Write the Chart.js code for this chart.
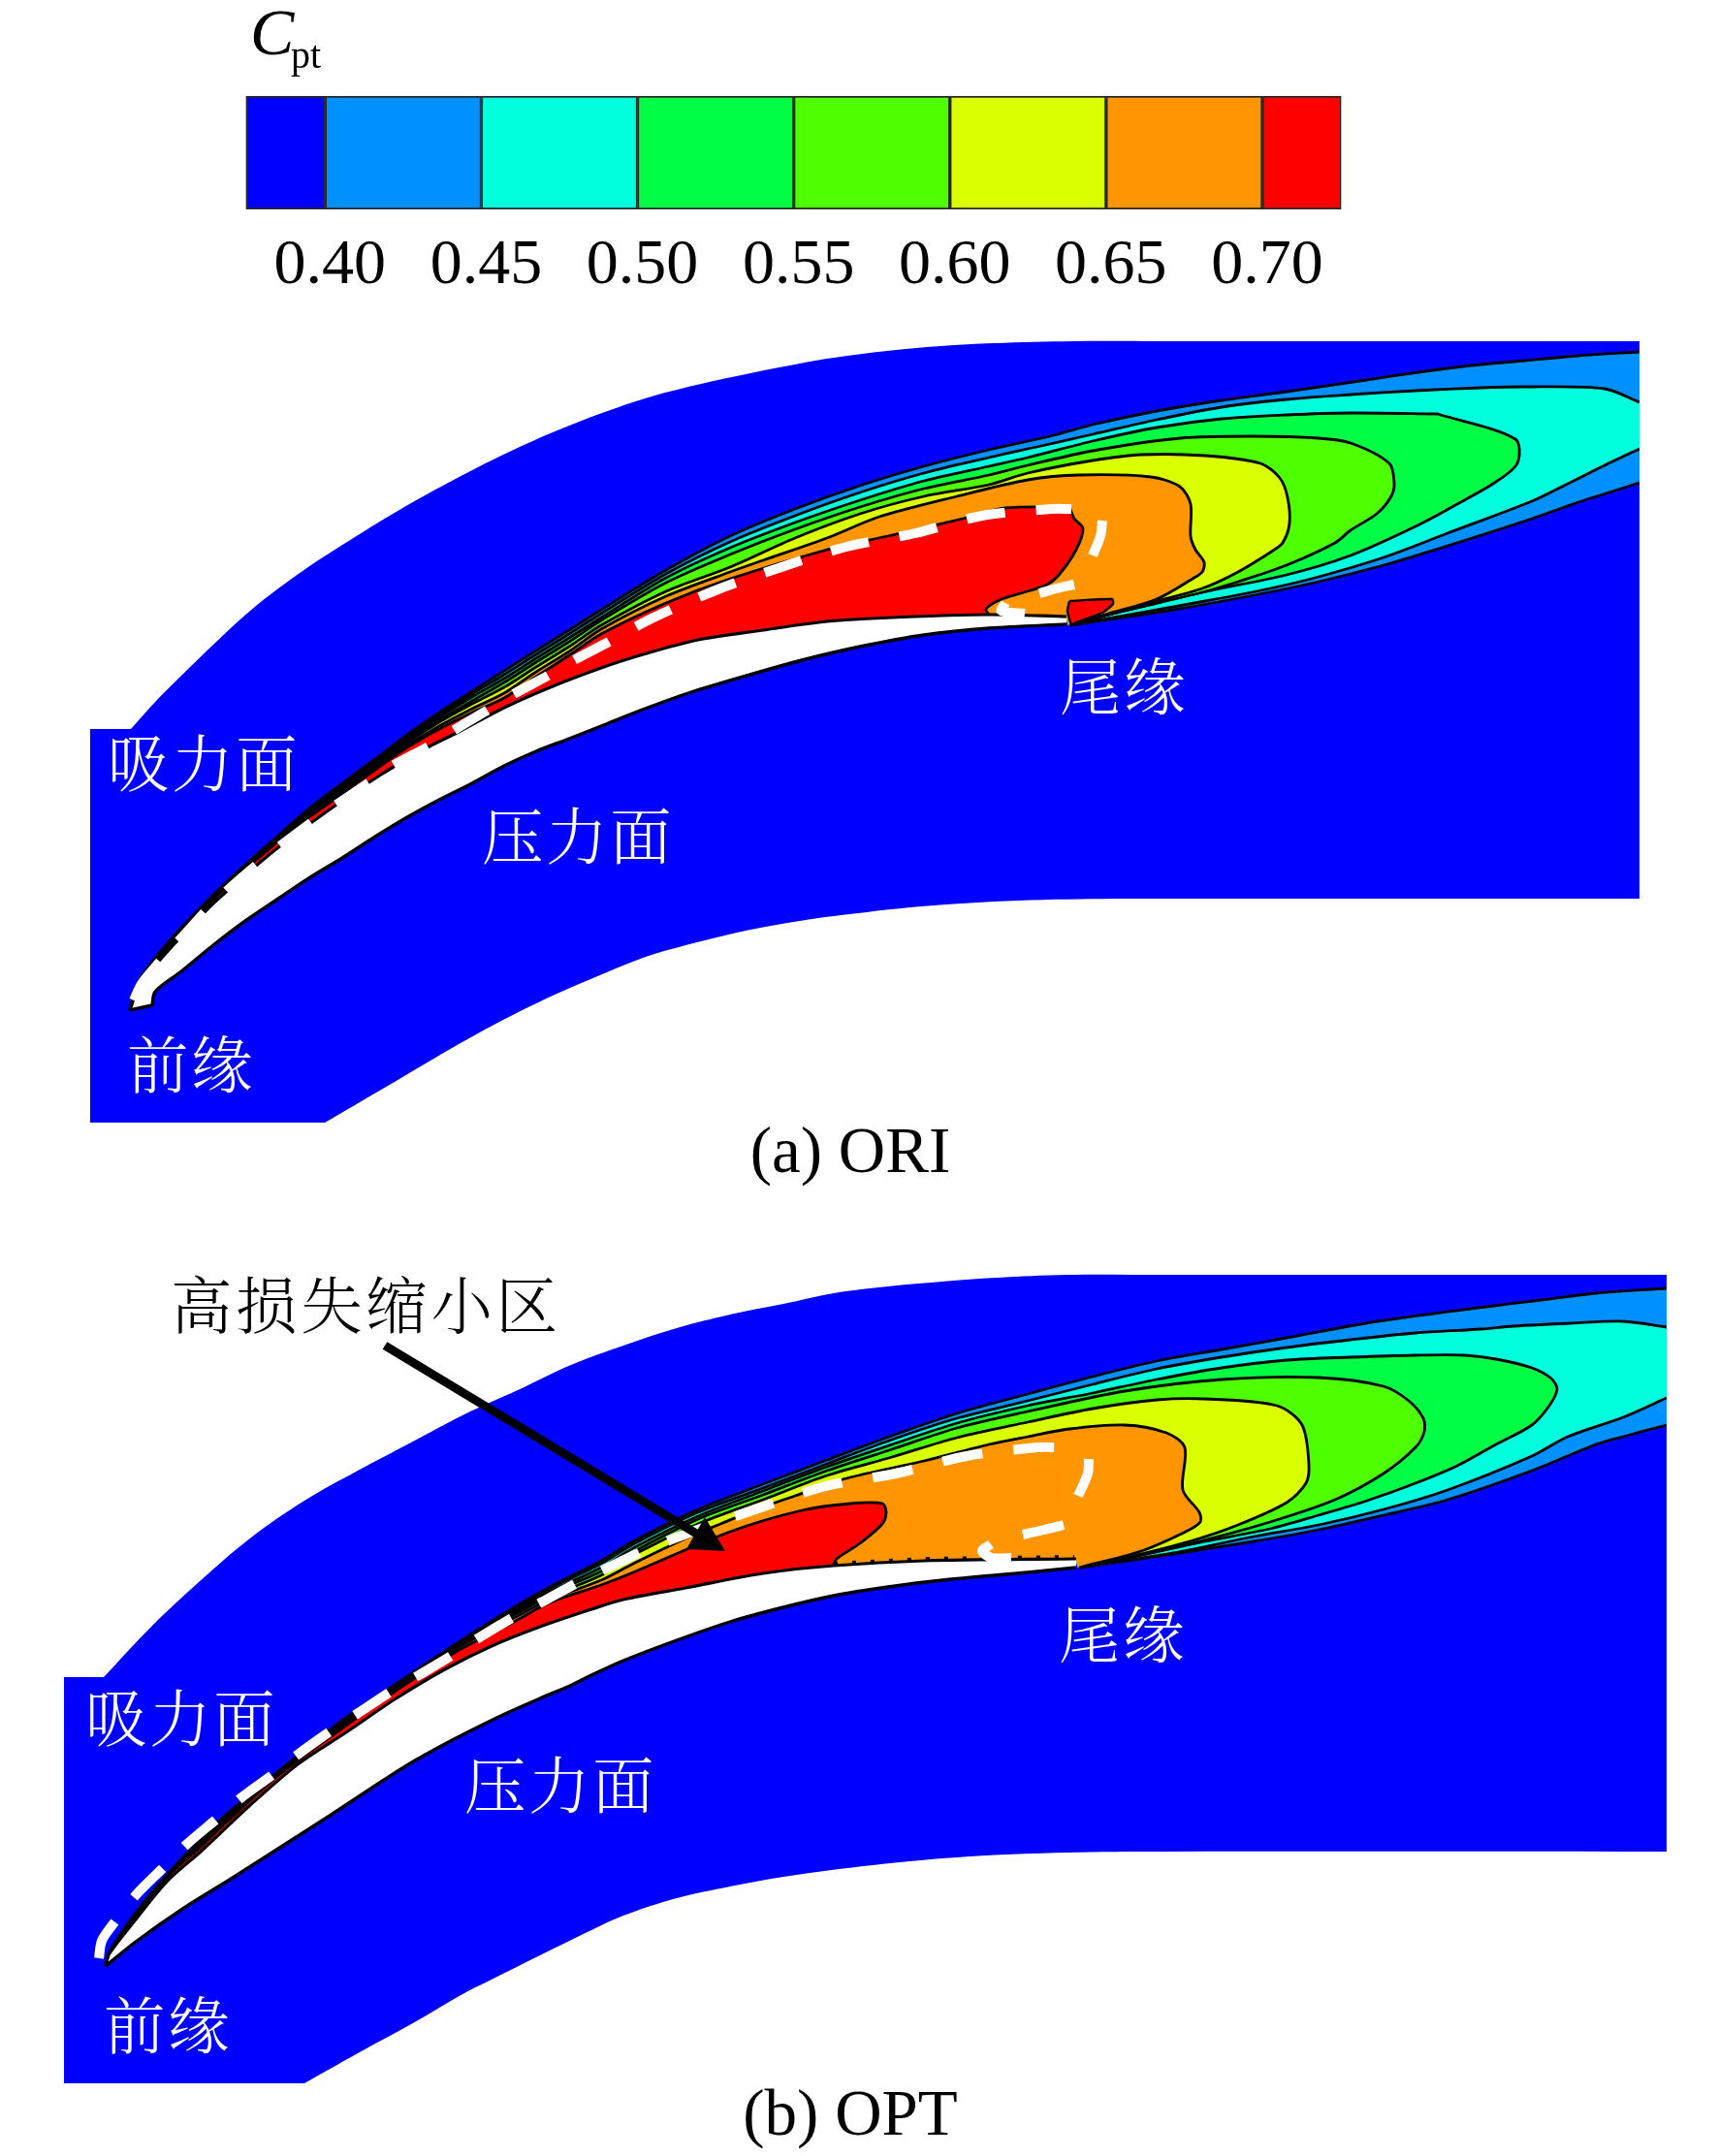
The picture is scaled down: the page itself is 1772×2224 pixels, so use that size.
<!DOCTYPE html>
<html><head><meta charset="utf-8"><style>
html,body{margin:0;padding:0;background:#fff}
#wrap{position:relative;width:1772px;height:2224px;overflow:hidden}
canvas{position:absolute;left:0;top:0}
</style>
<script src="https://cdn.jsdelivr.net/npm/chart.js@4"></script></head><body>
<div id="wrap"><canvas id="main" width="1772" height="2224"></canvas><canvas id="bar" width="1772" height="330"></canvas></div>
<script>
// ---- colour bar data ----
const levelEdges=[0.3746,0.40,0.45,0.50,0.55,0.60,0.65,0.70,0.7253];
const levelTicks=[0.40,0.45,0.50,0.55,0.60,0.65,0.70];
const levelColors=['#0000ff','#0090ff','#00ffdd','#00ff44','#4dff00','#d9ff00','#ff9500','#ff0000'];
const wallColor='#000000';
// ---- (a) ORI ----
const oriDomain=[[93,752],[93,752],[135,752],[135,752],[162,722],[187,697],[220,665],[264,625],[315,587],[366,554],[417,523],[468,495],[519,469],[570,446],[621,426],[672,409],[723,396],[774,385],[825,375],[860,369],[915,362],[970,357],[1025,354],[1107,352],[1200,352],[1691,352],[1691,352],[1691,927],[1691,927],[1200,927],[1150,927],[1050,929],[950,935],[860,945],[825,950],[774,959],[723,971],[672,985],[640,997],[621,1005],[570,1027],[519,1052],[468,1080],[417,1110],[366,1140],[335,1158],[335,1158],[93,1158],[93,1158]];
const oriBladeTop=[[134,1042],[134,1042],[143,1018],[160,996],[187,966],[222,930],[276,883],[333,840],[393,799],[443,770],[473,755],[520,730],[570,708],[620,689],[660,676],[720,660],[787,650],[853,641],[920,637],[1020,634],[1100,636],[1100,636]];
const oriBladeBottom=[[1100,644],[1100,644],[1020,648],[953,655],[887,667],[827,681],[770,697],[710,715],[660,733],[620,749],[587,762],[553,775],[520,790],[487,808],[453,825],[420,843],[387,863],[353,885],[320,905],[287,927],[253,950],[220,975],[187,1002],[160,1023],[157,1037],[157,1037],[134,1042],[134,1042]];
const oriL40=[[134,1042],[143,1013],[160,988],[187,957],[220,923],[253,892],[287,862],[320,833],[353,808],[387,783],[420,758],[453,735],[487,713],[520,692],[553,671],[587,650],[620,629],[687,588],[753,553],[820,525],[887,501],[953,481],[1020,464],[1087,449],[1127,438],[1193,424],[1260,413],[1327,404],[1409,392],[1463,384],[1518,377],[1573,372],[1628,367],[1691,363],[1691,363],[1691,498],[1691,498],[1628,518],[1580,535],[1493,563],[1427,583],[1360,600],[1293,614],[1210,629],[1103,645]];
const oriL45=[[134,1042],[143,1013],[160,989],[187,958],[220,924],[253,893],[287,863],[320,834],[353,809],[387,785],[420,760],[453,738],[487,716],[520,696],[553,675],[587,654],[620,633],[687,592],[753,559],[820,532],[887,508],[953,488],[1020,472],[1060,463],[1127,448],[1193,433],[1260,420],[1327,412],[1393,407],[1460,403],[1527,400],[1573,399],[1655,401],[1691,415],[1691,415],[1691,463],[1691,463],[1655,480],[1615,500],[1580,517],[1493,550],[1427,575],[1360,595],[1310,607],[1243,620],[1103,645]];
const oriL50=[[134,1042],[143,1014],[160,989],[187,959],[220,924],[253,893],[287,863],[320,835],[353,811],[387,786],[420,762],[453,740],[487,719],[520,700],[553,679],[587,658],[620,637],[687,596],[753,565],[820,539],[887,516],[953,496],[1020,481],[1060,472],[1127,455],[1193,441],[1260,432],[1327,428],[1393,426],[1483,427],[1483,427],[1563,453],[1565,478],[1543,497],[1503,520],[1460,543],[1393,573],[1327,593],[1240,611],[1160,630],[1103,645]];
const oriL55=[[134,1042],[143,1014],[160,990],[187,960],[220,925],[253,894],[287,864],[320,836],[353,812],[387,788],[420,764],[453,743],[487,723],[520,704],[553,683],[587,662],[620,640],[687,601],[753,572],[820,546],[887,523],[953,504],[1020,490],[1060,480],[1127,465],[1217,452],[1293,450],[1360,452],[1393,457],[1433,478],[1438,498],[1435,512],[1420,530],[1393,547],[1377,560],[1327,583],[1277,600],[1240,611],[1160,630],[1103,645]];
const oriL60=[[134,1042],[143,1014],[160,990],[187,961],[220,925],[253,894],[287,865],[320,837],[353,814],[387,790],[420,766],[453,745],[487,726],[520,709],[553,688],[587,667],[620,645],[687,610],[753,585],[820,555],[887,530],[953,512],[1020,500],[1060,488],[1127,475],[1177,469],[1243,470],[1300,478],[1320,493],[1328,513],[1330,540],[1323,560],[1313,568],[1277,590],[1240,607],[1193,620],[1143,634],[1103,645]];
const oriL65=[[134,1042],[143,1015],[160,991],[187,962],[220,926],[253,895],[287,866],[320,839],[353,816],[387,792],[420,769],[453,749],[487,731],[520,715],[553,693],[587,672],[620,649],[687,615],[753,590],[787,578],[853,555],[907,533],[987,512],[1060,495],[1113,490],[1187,492],[1217,502],[1228,520],[1228,553],[1233,567],[1242,580],[1240,590],[1230,597],[1193,618],[1143,633],[1103,645]];
const oriL70=[[134,1042],[143,1016],[160,993],[187,964],[220,928],[253,897],[287,868],[320,842],[353,819],[387,794],[420,771],[453,752],[487,735],[520,720],[553,698],[587,676],[620,654],[687,622],[753,597],[853,567],[920,552],[993,535],[1037,524],[1103,523],[1103,523],[1108,535],[1117,545],[1110,567],[1093,592],[1080,603],[1053,612],[1033,618],[1017,628],[1020,634]];
const oriL70Patch=[[1103,620],[1147,618],[1148,623],[1137,632],[1110,642],[1105,644],[1101,630]];
const oriDash=[[184,971],[222,930],[276,883],[333,840],[393,799],[405,790],[442,770],[467,754],[502,733],[528,717],[565,697],[590,682],[628,662],[672,638],[738,609],[806,585],[873,564],[944,550],[1013,532],[1085,525],[1105,525]];
const oriDashLead=[[138,1032],[146,1015],[165,992]];
const oriDashTailA=[[1137,537],[1135,553],[1127,573]];
const oriDashTailB=[[1108,603],[1090,607],[1072,612]];
const oriDashTailC=[[1037,622],[1033,630],[1057,633]];
// ---- (b) OPT ----
const optDomain=[[66,1730],[66,1730],[107,1730],[107,1730],[157,1677],[205,1632],[259,1586],[314,1548],[369,1517],[424,1488],[479,1459],[534,1434],[589,1408],[643,1388],[698,1370],[753,1356],[808,1345],[860,1334],[916,1327],[972,1322],[1028,1318],[1101,1315],[1200,1315],[1719,1315],[1719,1315],[1719,1910],[1719,1910],[1200,1910],[1100,1911],[1000,1915],[900,1924],[808,1936],[753,1946],[698,1958],[643,1976],[610,1991],[557,2017],[503,2044],[479,2056],[424,2088],[369,2118],[314,2149],[314,2149],[66,2149],[66,2149]];
const optBladeTop=[[109,2028],[109,2028],[113,2015],[140,1980],[173,1940],[207,1910],[257,1863],[307,1820],[357,1787],[407,1753],[457,1723],[507,1698],[557,1678],[610,1660],[643,1650],[707,1638],[787,1623],[860,1615],[953,1610],[1108,1608],[1110,1608],[1110,1608]];
const optBladeBottom=[[1110,1617],[1110,1617],[1060,1622],[972,1630],[916,1637],[860,1646],[808,1658],[753,1673],[698,1692],[643,1713],[610,1728],[590,1738],[557,1752],[523,1767],[490,1783],[457,1800],[423,1819],[390,1840],[340,1873],[290,1905],[240,1937],[190,1968],[140,2003],[109,2028],[109,2028]];
const optL40=[[109,2028],[113,2013],[140,1973],[173,1933],[207,1897],[233,1872],[290,1825],[347,1779],[407,1738],[470,1696],[530,1658],[567,1637],[620,1610],[653,1590],[720,1557],[787,1531],[853,1506],[920,1481],[987,1458],[1060,1438],[1127,1420],[1193,1404],[1260,1392],[1327,1380],[1421,1363],[1533,1348],[1590,1341],[1646,1334],[1719,1329],[1719,1329],[1719,1470],[1719,1470],[1674,1482],[1646,1490],[1580,1517],[1493,1547],[1427,1563],[1360,1578],[1293,1590],[1210,1603],[1113,1617]];
const optL45=[[109,2028],[113,2014],[140,1974],[173,1934],[207,1898],[233,1873],[290,1825],[347,1780],[407,1739],[470,1697],[530,1660],[567,1639],[620,1613],[653,1593],[720,1560],[787,1535],[853,1510],[920,1485],[987,1463],[1060,1445],[1127,1428],[1193,1412],[1260,1400],[1327,1390],[1393,1382],[1460,1375],[1527,1371],[1561,1368],[1620,1365],[1674,1363],[1719,1369],[1719,1369],[1719,1442],[1719,1442],[1674,1462],[1617,1482],[1580,1502],[1493,1537],[1427,1557],[1360,1573],[1293,1585],[1210,1602],[1113,1617]];
const optL50=[[109,2028],[113,2014],[140,1974],[173,1934],[207,1899],[233,1873],[290,1825],[347,1781],[407,1740],[470,1698],[530,1662],[567,1642],[620,1617],[653,1597],[720,1564],[787,1538],[853,1513],[920,1490],[987,1468],[1060,1450],[1127,1437],[1193,1423],[1260,1411],[1327,1403],[1393,1400],[1460,1398],[1510,1398],[1543,1402],[1580,1411],[1600,1422],[1606,1433],[1598,1450],[1580,1470],[1543,1490],[1503,1512],[1460,1530],[1410,1548],[1360,1563],[1310,1577],[1243,1590],[1160,1608],[1113,1617]];
const optL55=[[109,2028],[113,2014],[140,1975],[173,1934],[207,1900],[233,1874],[290,1826],[347,1782],[407,1741],[470,1699],[530,1664],[567,1644],[620,1621],[653,1601],[720,1567],[787,1542],[853,1517],[920,1495],[987,1473],[1060,1456],[1160,1435],[1260,1423],[1360,1421],[1427,1430],[1453,1445],[1468,1463],[1469,1477],[1460,1493],[1427,1520],[1377,1547],[1310,1570],[1237,1590],[1160,1608],[1113,1617]];
const optL60=[[109,2028],[113,2015],[140,1975],[173,1935],[207,1901],[233,1875],[290,1826],[347,1783],[407,1742],[470,1700],[530,1666],[567,1647],[620,1625],[653,1604],[720,1572],[787,1547],[853,1522],[920,1503],[987,1483],[1060,1467],[1127,1453],[1193,1444],[1243,1443],[1317,1450],[1343,1470],[1350,1510],[1347,1530],[1327,1550],[1277,1573],[1227,1590],[1160,1607],[1113,1617]];
const optL65=[[109,2028],[113,2015],[140,1976],[173,1935],[207,1902],[233,1877],[290,1827],[347,1784],[407,1744],[470,1701],[530,1669],[567,1650],[620,1630],[653,1613],[707,1587],[743,1572],[780,1557],[820,1543],[873,1525],[953,1507],[1020,1490],[1060,1482],[1103,1474],[1160,1470],[1203,1478],[1222,1493],[1220,1537],[1237,1560],[1238,1570],[1223,1580],[1177,1600],[1113,1617]];
const optL70=[[109,2028],[113,2016],[140,1977],[173,1936],[207,1905],[233,1880],[290,1829],[347,1787],[407,1745],[470,1704],[530,1673],[567,1653],[620,1635],[653,1622],[753,1580],[827,1558],[877,1551],[910,1551],[914,1560],[910,1572],[887,1592],[863,1608],[858,1617]];
const optDash=[[102,2020],[105,2002],[118,1983],[140,1955],[168,1927],[192,1903],[225,1875],[248,1855],[282,1830],[307,1810],[342,1785],[368,1768],[403,1745],[432,1728],[467,1707],[493,1690],[530,1668],[558,1653],[597,1632],[663,1600],[703,1584],[782,1556],[852,1533],[924,1520],[997,1502],[1070,1493],[1091,1493]];
const optDashTailA=[[1123,1505],[1122,1520],[1112,1543]];
const optDashTailB=[[1097,1573],[1077,1578],[1055,1583]];
const optDashTailC=[[1022,1593],[1013,1600],[1023,1607],[1043,1607]];
const optRoughEdge=[[860,1613],[953,1608],[1108,1606]];
const arrowShaft=[[397,1388],[720,1583]];
const arrowHead=[[748,1600],[727,1565],[708,1598]];
// ---- text ----
const labels=[
 {t:'吸力面',x:111,y:787,c:'#fff'},{t:'压力面',x:497,y:862,c:'#fff'},{t:'前缘',x:131,y:1098,c:'#fff'},{t:'尾缘',x:1093,y:708,c:'#fff'},
 {t:'吸力面',x:88,y:1772,c:'#fff'},{t:'压力面',x:479,y:1841,c:'#fff'},{t:'前缘',x:107,y:2089,c:'#fff'},{t:'尾缘',x:1092,y:1686,c:'#fff'},
 {t:'高损失缩小区',x:176,y:1346,c:'#000',sp:3.6}
];
const captions=[{t:'(a) ORI',x:877,y:1209},{t:'(b) OPT',x:877,y:2202}];

const pts=a=>a.map(p=>({x:p[0],y:p[1]}));
const DS=[];
function fillShape(a,color,tension=0){DS.push({type:'line',data:pts(a),fill:'shape',backgroundColor:color,borderWidth:0,borderColor:'transparent',pointRadius:0,tension});}
function stroke(a,color,width,dash,tension=0.3,cap='butt'){DS.push({type:'line',data:pts(a),fill:false,borderColor:color,borderWidth:width,borderDash:dash||[],pointRadius:0,tension,borderCapStyle:cap,borderJoinStyle:'round'});}
function outline(a,edge){const o=[];a.forEach((p,i)=>{if(i&&p[0]>=edge&&a[i-1][0]>=edge)o.push([null,null]);o.push(p);});return o;}
function panel(domain,top,bottom,levels,patch,edge){
 fillShape(domain,levelColors[0],0.35);
 levels.forEach((L,i)=>{
  fillShape(L.concat(top.slice().reverse()),levelColors[i+1],0.3);
  stroke(outline(L,edge),'#000',2.8);
 });
 if(patch){fillShape(patch,levelColors[7],0.2);stroke(patch.concat([patch[0]]),'#000',2.4,null,0.2);}
 fillShape(top.concat(bottom),'#fff',0.3);
 stroke(top,wallColor,3.2);stroke(bottom,wallColor,3.4);
}
panel(oriDomain,oriBladeTop,oriBladeBottom,[oriL40,oriL45,oriL50,oriL55,oriL60,oriL65,oriL70],oriL70Patch,1691);
stroke(oriDashLead,'#fff',10);
stroke(oriDash,'#fff',10,[40,32]);
[oriDashTailA,oriDashTailB,oriDashTailC].forEach(a=>stroke(a,'#fff',10));
panel(optDomain,optBladeTop,optBladeBottom,[optL40,optL45,optL50,optL55,optL60,optL65,optL70],null,1719);
stroke(optRoughEdge,'#000',4,[4,15],0);
stroke(optDash,'#fff',10,[42,32]);
[optDashTailA,optDashTailB,optDashTailC].forEach(a=>stroke(a,'#fff',10));
stroke(arrowShaft,'#000',9,null,0);
fillShape(arrowHead,'#000');
DS.forEach((d,i)=>d.order=-i);

const CJK='"Noto Serif CJK SC","Noto Sans CJK SC",sans-serif';
const textPlugin={id:'panelText',afterDatasetsDraw(ch){
 const {ctx,scales:{x,y}}=ch;ctx.save();
 labels.forEach(l=>{ctx.font='300 63.5px '+CJK;ctx.fillStyle=l.c;ctx.textAlign='left';ctx.textBaseline='middle';ctx.letterSpacing=(l.sp||2.5)+'px';ctx.fillText(l.t,x.getPixelForValue(l.x),y.getPixelForValue(l.y));});
 ctx.letterSpacing='0px';
 captions.forEach(l=>{ctx.font='67px "Liberation Serif"';ctx.fillStyle='#000';ctx.textAlign='center';ctx.textBaseline='alphabetic';ctx.fillText(l.t,x.getPixelForValue(l.x),y.getPixelForValue(l.y));});
 ctx.restore();}};
new Chart(document.getElementById('main'),{type:'line',data:{datasets:DS},plugins:[textPlugin],
 options:{responsive:false,animation:false,events:[],devicePixelRatio:1,layout:{padding:0},
  plugins:{legend:{display:false},tooltip:{enabled:false},filler:{propagate:false}},
  scales:{x:{type:'linear',min:0,max:1772,display:false},y:{type:'linear',min:0,max:2224,reverse:true,display:false}}}});

const titlePlugin={id:'barTitle',afterDraw(ch){const c=ch.ctx;c.save();c.fillStyle='#000';c.textBaseline='alphabetic';c.textAlign='left';
 c.font='italic 68px "Liberation Serif"';c.fillText('C',258,56);
 c.font='40px "Liberation Serif"';c.fillText('pt',300,70);c.restore();}};
new Chart(document.getElementById('bar'),{type:'bar',
 data:{labels:['Cpt'],datasets:levelColors.map((col,i)=>({data:[[levelEdges[i],levelEdges[i+1]]],backgroundColor:col,borderColor:'#2a2a2a',borderWidth:2,borderSkipped:false,barPercentage:1,categoryPercentage:1,grouped:false}))},
 plugins:[titlePlugin],
 options:{indexAxis:'y',responsive:false,animation:false,events:[],devicePixelRatio:1,
  layout:{padding:{left:253.5,right:388.5,top:99,bottom:0}},
  plugins:{legend:{display:false},tooltip:{enabled:false}},
  scales:{
   y:{display:false},
   x:{type:'linear',min:levelEdges[0],max:levelEdges[levelEdges.length-1],grid:{display:false},border:{display:false},
    afterBuildTicks:s=>{s.ticks=levelTicks.map(v=>({value:v}));},
    afterFit:s=>{s.height=114;},
    ticks:{autoSkip:false,maxRotation:0,minRotation:0,padding:11,labelOffset:5,color:'#000',font:{family:'"Liberation Serif"',size:66},callback:v=>Number(v).toFixed(2)}}
  }}});
</script></body></html>
